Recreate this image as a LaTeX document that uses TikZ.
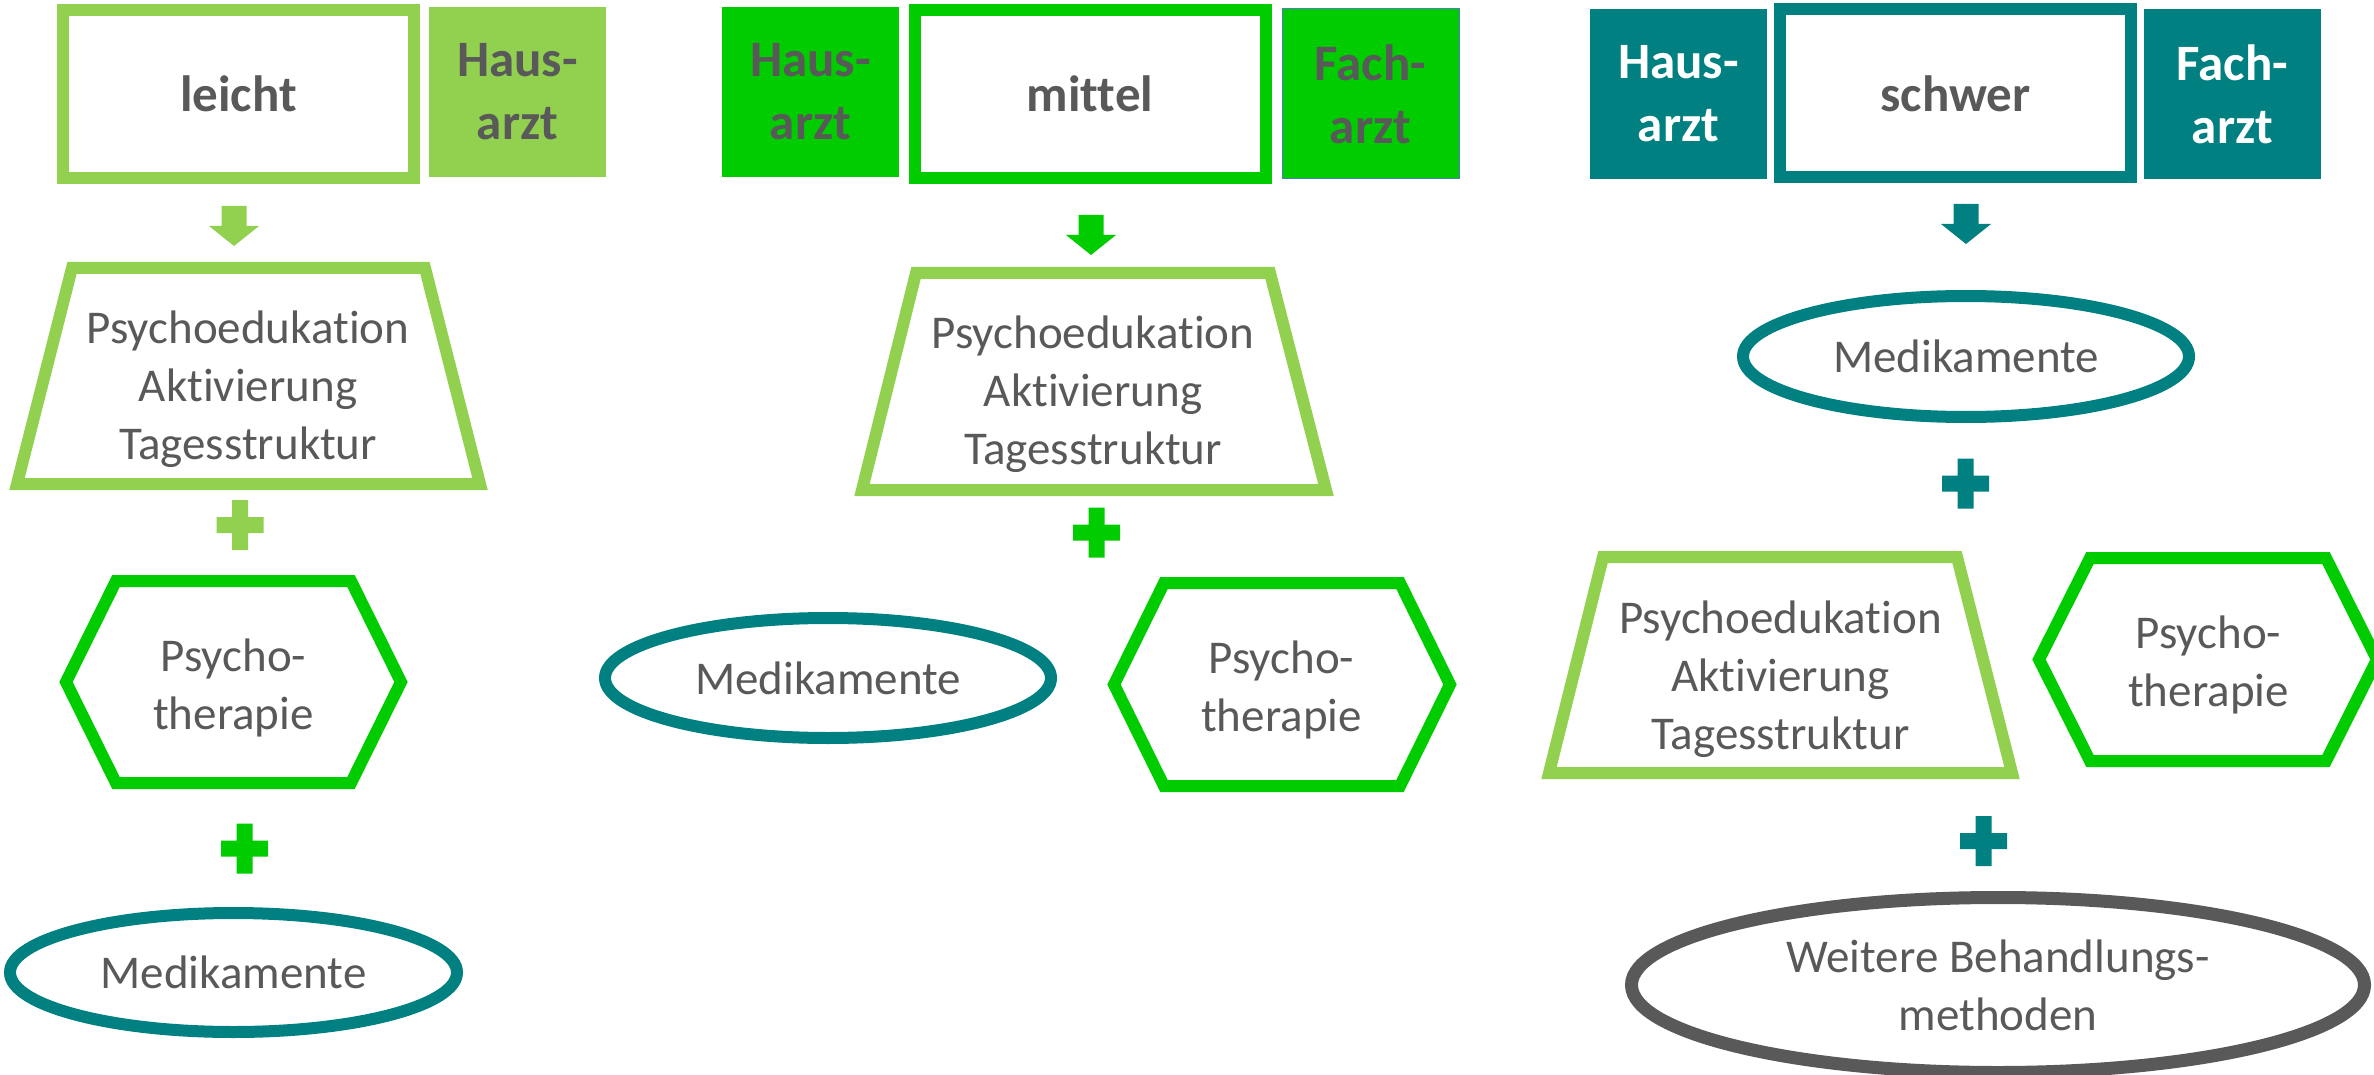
\documentclass[tikz,border=0pt]{standalone}
\usepackage{fontspec}
\setmainfont{Carlito}[Ligatures={NoCommon,NoContextual}]
\usetikzlibrary{shapes.geometric}
\definecolor{lg}{HTML}{92D050}
\definecolor{gn}{HTML}{00CC00}
\definecolor{tl}{HTML}{008080}
\definecolor{tx}{HTML}{595959}
\definecolor{fb}{HTML}{4A7EBB}
\begin{document}
\begin{tikzpicture}[x=1pt,y=-1pt,
  txt/.style={text=tx, font=\fontsize{47}{58}\selectfont, align=center, inner sep=0pt},
  head/.style={draw, line width=12pt, minimum width=351pt, minimum height=168pt, inner sep=0pt, text=tx, font=\fontsize{51}{63}\selectfont\bfseries},
  doc/.style={minimum width=177pt, minimum height=170pt, inner sep=0pt, align=center, font=\fontsize{51}{63}\selectfont\bfseries},
  ell/.style={ellipse, draw, line width=12pt, inner sep=0pt, text=tx, align=center, font=\fontsize{47}{58}\selectfont},
  shp/.style={line width=12pt, line join=miter},
  plussign/.pic={\fill[pic actions] (-23.5,-8) rectangle (23.5,8) (-8,-25) rectangle (8,25);},
  downarrow/.pic={\fill[pic actions] (-12.5,0) -- (12.5,0) -- (12.5,20) -- (25,20) -- (0,40) -- (-25,20) -- (-12.5,20) -- cycle;}
]
\useasboundingbox (0,0) rectangle (2374,1075);
\clip (0,0) rectangle (2374,1075);

% Column 1: leicht
\node[head, draw=lg] (leicht) at (238.5,94) {leicht};
\node[doc, fill=lg, text=tx] (ha1) at (517.5,92) {Haus-\\arzt};
\pic[fill=lg] at (234,206) {downarrow};
\draw[shp, draw=lg] (72,268) -- (425,268) -- (480,484) -- (17,484) -- cycle;
\node[txt] (pe1) at (248,389) {Psychoedukation\\Aktivierung\\Tagesstruktur};
\pic[fill=lg] at (240,525) {plussign};
\draw[shp, draw=gn] (66,682) -- (116,581) -- (351,581) -- (401,682) -- (351,783) -- (116,783) -- cycle;
\node[txt] (pt1) at (233.5,687.5) {Psycho-\\therapie};
\pic[fill=gn] at (244.5,848.5) {plussign};
\node[ell, draw=tl, minimum width=447pt, minimum height=119pt] (me1) at (233.5,972.5) {Medikamente};

% Column 2: mittel
\node[doc, fill=gn, text=tx] (ha2) at (810.5,92) {Haus-\\arzt};
\node[head, draw=gn] (mittel) at (1090,94) {mittel};
\node[doc, fill=gn, text=tx, draw=fb, line width=1pt] (fa2) at (1370.5,94) {Fach-\\arzt};
\pic[fill=gn] at (1091,215) {downarrow};
\draw[shp, draw=lg] (916,273) -- (1270,273) -- (1326,490) -- (862,490) -- cycle;
\node[txt] (pe2) at (1093,394) {Psychoedukation\\Aktivierung\\Tagesstruktur};
\pic[fill=gn] at (1096.5,532.5) {plussign};
\node[ell, draw=tl, minimum width=446pt, minimum height=120pt] (me2) at (828,678) {Medikamente};
\draw[shp, draw=gn] (1114,684.5) -- (1164,583) -- (1400,583) -- (1450,684.5) -- (1400,786) -- (1164,786) -- cycle;
\node[txt] (pt2) at (1281.5,689.5) {Psycho-\\therapie};

% Column 3: schwer
\node[doc, fill=tl, text=white] (ha3) at (1678.5,94) {Haus-\\arzt};
\node[head, draw=tl] (schwer) at (1955.5,93.5) {schwer};
\node[doc, fill=tl, text=white] (fa3) at (2232.5,94) {Fach-\\arzt};
\pic[fill=tl] at (1966,204) {downarrow};
\node[ell, draw=tl, minimum width=446pt, minimum height=121pt] (me3) at (1966,356.5) {Medikamente};
\pic[fill=tl] at (1965.5,483.5) {plussign};
\draw[shp, draw=lg] (1603,557) -- (1957,557) -- (2012,773) -- (1549,773) -- cycle;
\node[txt] (pe3) at (1780.5,679) {Psychoedukation\\Aktivierung\\Tagesstruktur};
\draw[shp, draw=gn] (2039,659.5) -- (2090,558) -- (2326,558) -- (2377,659.5) -- (2326,761) -- (2090,761) -- cycle;
\node[txt] (pt3) at (2208.5,664.5) {Psycho-\\therapie};
\pic[fill=tl] at (1983.5,841) {plussign};
\node[ell, draw=tx, line width=13pt, minimum width=733pt, minimum height=175pt] (wb) at (1998,985) {Weitere Behandlungs-\\methoden};
\end{tikzpicture}
\end{document}
